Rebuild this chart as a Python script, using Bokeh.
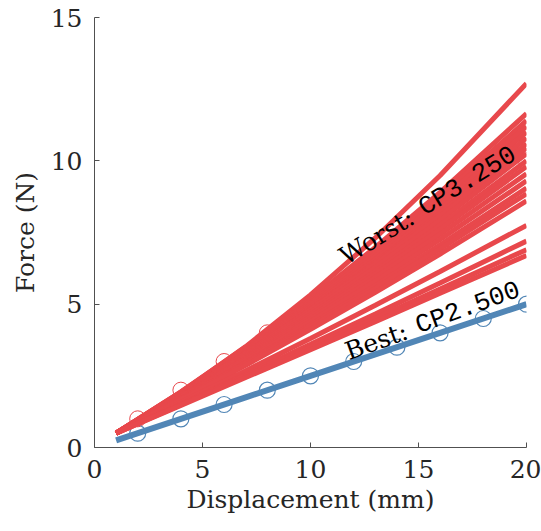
import math
from bokeh.plotting import figure
from bokeh.models import Range1d, Label, FixedTicker
from bokeh.embed import file_html
from bokeh.resources import INLINE

# ---- data ----
x_curve = [1, 4, 7, 10, 13, 16, 20]
red_curves = [
    [0.50, 1.92, 3.52, 5.32, 7.31, 9.49, 12.70],
    [0.50, 1.94, 3.50, 5.18, 6.98, 8.90, 11.65],
    [0.50, 1.93, 3.46, 5.11, 6.87, 8.74, 11.40],
    [0.50, 1.91, 3.42, 5.04, 6.77, 8.60, 11.20],
    [0.50, 1.89, 3.38, 4.97, 6.66, 8.46, 11.00],
    [0.50, 1.87, 3.34, 4.90, 6.56, 8.31, 10.80],
    [0.50, 1.85, 3.30, 4.83, 6.46, 8.17, 10.60],
    [0.50, 1.85, 3.28, 4.80, 6.40, 8.08, 10.45],
    [0.50, 1.83, 3.23, 4.72, 6.29, 7.93, 10.25],
    [0.50, 1.80, 3.18, 4.63, 6.15, 7.75, 10.00],
    [0.50, 1.78, 3.13, 4.56, 6.05, 7.61, 9.80],
    [0.50, 1.77, 3.09, 4.48, 5.93, 7.44, 9.55],
    [0.50, 1.74, 3.04, 4.39, 5.80, 7.26, 9.30],
    [0.50, 1.71, 2.97, 4.28, 5.65, 7.07, 9.05],
    [0.50, 1.69, 2.93, 4.21, 5.55, 6.93, 8.85],
    [0.50, 1.66, 2.87, 4.12, 5.41, 6.75, 8.60],
    [0.50, 1.58, 2.68, 3.80, 4.96, 6.14, 7.75],
    [0.50, 1.52, 2.55, 3.60, 4.66, 5.74, 7.20],
    [0.50, 1.49, 2.50, 3.50, 4.51, 5.53, 6.90],
    [0.50, 1.47, 2.44, 3.41, 4.39, 5.38, 6.70],
]
blue_curve = [0.25, 1.00, 1.75, 2.50, 3.25, 4.00, 5.00]

x_markers = [2, 4, 6, 8, 10, 12, 14, 16, 18, 20]
red_markers = [1, 2, 3, 4, 5, 6, 7, 8, 9, 10]
blue_markers = [0.5, 1.0, 1.5, 2.0, 2.5, 3.0, 3.5, 4.0, 4.5, 5.0]

x_ticks = [0, 5, 10, 15, 20]
y_ticks = [0, 5, 10, 15]

worst_label = ("Worst: ", "CP3.250")
best_label = ("Best: ", "CP2.500")

RED = "#e8484c"
BLUE = "#5186b6"
SERIF = "DejaVu Serif"
MONO = "Liberation Mono"

p = figure(width=541, height=531, output_backend="svg", toolbar_location=None,
           x_range=Range1d(0, 20), y_range=Range1d(0, 15),
           min_border_left=94, min_border_right=15, min_border_top=17,
           min_border_bottom=84)
p.outline_line_color = None
p.xgrid.visible = False
p.ygrid.visible = False
p.background_fill_color = "white"
p.border_fill_color = "white"

# markers (under the lines)
p.scatter(x_markers, red_markers, marker="circle", size=16, fill_color=None,
          line_color=RED, line_width=1)
p.scatter(x_markers, blue_markers, marker="circle", size=16, fill_color=None,
          line_color=BLUE, line_width=1.2)

for ys in red_curves:
    p.line(x_curve, ys, line_color=RED, line_width=5)
p.line(x_curve, blue_curve, line_color=BLUE, line_width=6)

# annotations
def add_label(x, y, parts, angle_deg, dist):
    a = math.radians(angle_deg)
    p.add_layout(Label(x=x, y=y, text=parts[0], angle=a, text_font=SERIF,
                       text_font_size="25px", text_color="black",
                       text_baseline="alphabetic", text_align="left"))
    p.add_layout(Label(x=x, y=y, text=parts[1], angle=a, text_font=MONO,
                       text_font_size="26px", text_color="black",
                       text_baseline="alphabetic", text_align="left",
                       x_offset=dist * math.cos(a), y_offset=dist * math.sin(a)))

add_label(11.45, 6.6, worst_label, 31.5, 93)
add_label(11.65, 3.32, best_label, 20.0, 75)

for ax in (p.xaxis[0], p.yaxis[0]):
    ax.axis_line_color = "#505050"
    ax.axis_line_width = 1
    ax.major_tick_line_color = "#505050"
    ax.major_tick_in = 5
    ax.major_tick_out = 0
    ax.minor_tick_line_color = None
    ax.major_label_text_font = SERIF
    ax.major_label_text_font_size = "25px"
    ax.major_label_text_color = "#262626"
    ax.axis_label_text_font = SERIF
    ax.axis_label_text_font_size = "25px"
    ax.axis_label_text_font_style = "normal"
    ax.axis_label_text_color = "#262626"

p.xaxis.ticker = FixedTicker(ticks=x_ticks)
p.yaxis.ticker = FixedTicker(ticks=y_ticks)
p.xaxis.axis_label = "Displacement (mm)"
p.yaxis.axis_label = "Force (N)"
p.xaxis.major_label_standoff = 12
p.yaxis.major_label_standoff = 12
p.xaxis.axis_label_standoff = 4
p.yaxis.axis_label_standoff = 8
p.yaxis.major_label_orientation = "horizontal"

open("out.html", "w").write(file_html(p, INLINE))
